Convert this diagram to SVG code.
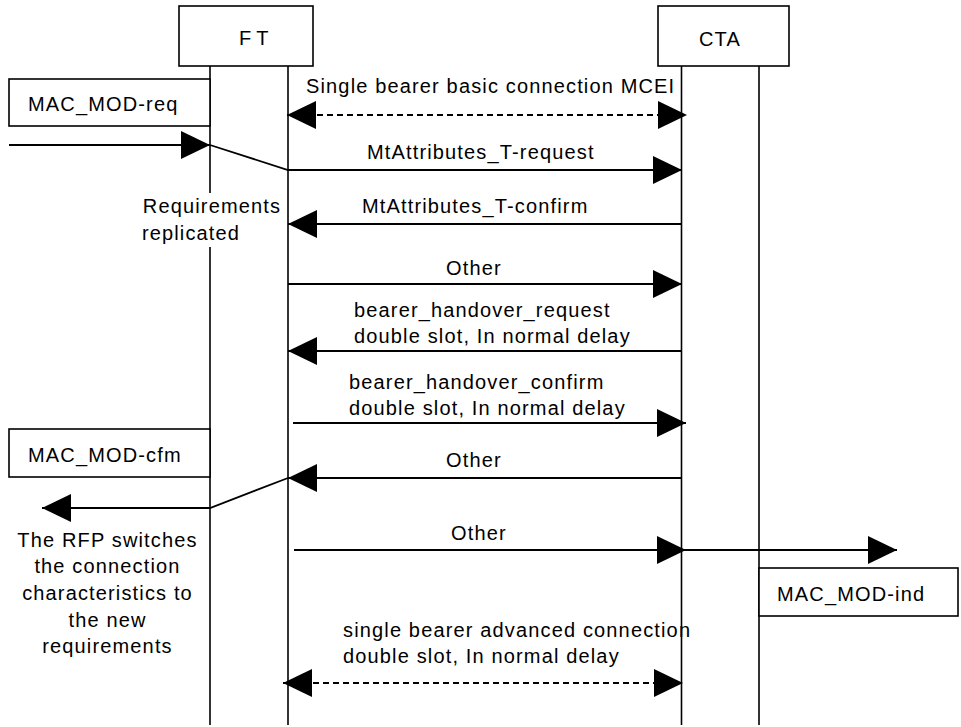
<svg xmlns="http://www.w3.org/2000/svg" width="961" height="727" viewBox="0 0 961 727">
<style>
.box{fill:#fff;stroke:#000;stroke-width:1.6}
.life{stroke:#000;stroke-width:1.6;fill:none}
.msg{stroke:#000;stroke-width:1.8;fill:none}
.dash{stroke-dasharray:6 4}
text{font-family:"Liberation Sans",Arial,Helvetica,sans-serif;font-size:20px;letter-spacing:1.15px;fill:#000}
.c{text-anchor:middle}
</style>
<defs>
<marker id="ah" markerUnits="userSpaceOnUse" markerWidth="30" markerHeight="28" refX="29" refY="14" orient="auto-start-reverse" viewBox="0 0 30 28">
<path d="M0,0 L29,14 L0,28 Z" fill="#000"/>
</marker>
</defs>
<rect width="961" height="727" fill="#fff"/>

<g id="FT">
<rect class="box" x="179" y="6" width="134" height="60"/>
<text x="239" y="45" style="letter-spacing:5px">FT</text>
<line class="life" x1="210" y1="66" x2="210" y2="193"/>
<line class="life" x1="210" y1="247" x2="210" y2="725"/>
<line class="life" x1="288" y1="66" x2="288" y2="725"/>
</g>

<g id="CTA">
<rect class="box" x="658" y="6" width="131" height="60"/>
<text x="699" y="46">CTA</text>
<line class="life" x1="681.5" y1="66" x2="681.5" y2="725"/>
<line class="life" x1="759" y1="66" x2="759" y2="725"/>
</g>

<g id="mac-mod-req">
<rect class="box" x="9" y="79" width="201" height="47"/>
<text x="28" y="111">MAC_MOD-req</text>
</g>

<g id="mac-mod-cfm">
<rect class="box" x="9" y="429" width="201" height="48"/>
<text x="28" y="462">MAC_MOD-cfm</text>
</g>

<g id="mac-mod-ind">
<rect class="box" x="759" y="568" width="199" height="48"/>
<text x="777" y="601">MAC_MOD-ind</text>
</g>

<g id="note-requirements">
<text class="c" x="212" y="213">Requirements</text>
<text class="c" x="191" y="240">replicated</text>
</g>

<g id="note-rfp">
<text class="c" x="107.5" y="547">The RFP switches</text>
<text class="c" x="107.5" y="573">the connection</text>
<text class="c" x="107.5" y="600">characteristics to</text>
<text class="c" x="107.5" y="627">the new</text>
<text class="c" x="107.5" y="653">requirements</text>
</g>

<g id="connectors">
<line class="msg dash" x1="287" y1="115" x2="687" y2="115" marker-start="url(#ah)" marker-end="url(#ah)"/>
<text x="306" y="93">Single bearer basic connection MCEI</text>

<line class="msg" x1="9" y1="145" x2="210" y2="145" marker-end="url(#ah)"/>
<polyline class="msg" points="210,145 288,170 682,170" marker-end="url(#ah)"/>
<text x="367" y="159">MtAttributes_T-request</text>

<line class="msg" x1="682" y1="224" x2="288" y2="224" marker-end="url(#ah)"/>
<text x="362" y="213">MtAttributes_T-confirm</text>

<line class="msg" x1="288" y1="284" x2="682" y2="284" marker-end="url(#ah)"/>
<text x="446" y="275">Other</text>

<line class="msg" x1="682" y1="351" x2="288" y2="351" marker-end="url(#ah)"/>
<text x="354" y="317">bearer_handover_request</text>
<text x="354" y="343">double slot, In normal delay</text>

<line class="msg" x1="293" y1="423" x2="686" y2="423" marker-end="url(#ah)"/>
<text x="349" y="389">bearer_handover_confirm</text>
<text x="349" y="415">double slot, In normal delay</text>

<line class="msg" x1="682" y1="478" x2="288" y2="478" marker-end="url(#ah)"/>
<polyline class="msg" points="288,478 210,508 42,508" marker-end="url(#ah)"/>
<text x="446" y="467">Other</text>

<line class="msg" x1="294" y1="550" x2="686" y2="550" marker-end="url(#ah)"/>
<line class="msg" x1="682" y1="550" x2="897" y2="550" marker-end="url(#ah)"/>
<text x="451" y="540">Other</text>

<line class="msg dash" x1="283" y1="683" x2="683" y2="683" marker-start="url(#ah)" marker-end="url(#ah)"/>
<text x="343" y="637">single bearer advanced connection</text>
<text x="343" y="663">double slot, In normal delay</text>
</g>
</svg>
